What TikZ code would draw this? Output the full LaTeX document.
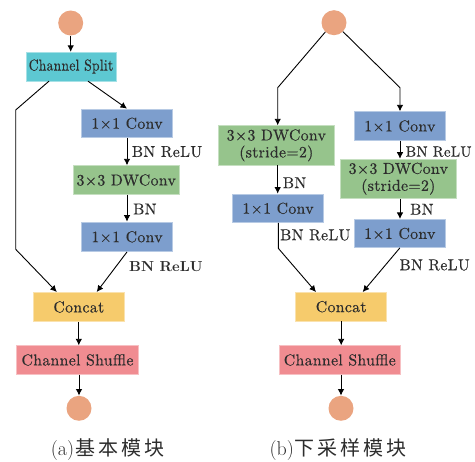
\documentclass[tikz,border=0pt]{standalone}
\usepackage{fontspec}
\newfontfamily\cjk{Noto Sans CJK SC}
\newfontfamily\boxfont{lmroman10-regular.otf}[LetterSpace=2, FakeBold=0.4]
\newfontfamily\boxfontbf{lmroman10-bold.otf}
\usetikzlibrary{arrows.meta}
\definecolor{cOrange}{RGB}{234,164,128}
\definecolor{cCyan}{RGB}{93,200,210}
\definecolor{cBlue}{RGB}{125,158,205}
\definecolor{cGreen}{RGB}{150,196,140}
\definecolor{cYellow}{RGB}{246,203,108}
\definecolor{cPink}{RGB}{240,140,145}
\definecolor{cText}{RGB}{45,45,45}
\begin{document}
\begin{tikzpicture}[x=1pt,y=-1pt,
  box/.style={draw=#1!55!white, line width=0.6pt, fill=#1, inner sep=0pt,
    minimum height=28.7pt, font=\fontsize{15.8}{17}\boxfont, text=cText, align=center},
  dot/.style={circle, fill=cOrange, minimum size=25pt, inner sep=0pt},
  arr/.style={-{Latex[length=6.5pt,width=6.5pt]}, line width=0.9pt},
  lbl/.style={font=\fontsize{15.8}{17}\boxfont, anchor=west, inner sep=0pt, text=cText},
  captext/.style={font=\fontsize{20}{22}\selectfont, inner sep=0pt, text=cText},
]
\useasboundingbox (0,0) rectangle (475,462);

% ---------- (a) ----------
\node[dot] (c1) at (70.7,23) {};
\node[box=cCyan, minimum width=90pt] (split) at (71,66.5) {\scalebox{0.86}[1]{Channel Split}};
\node[box=cBlue, minimum width=90.6pt] (conv1a) at (127,123.3) {1×1 Conv};
\node[box=cGreen, minimum width=105.7pt] (dwa) at (126.2,180) {3×3 DWConv};
\node[box=cBlue, minimum width=90.6pt, minimum height=29.7pt] (conv2a) at (127,236.8) {1×1 Conv};
\node[box=cYellow, minimum width=91pt, minimum height=29.4pt] (concata) at (78.8,307) {Concat};
\node[box=cPink, minimum width=121.6pt] (shufa) at (77.5,360) {Channel Shuffle};
\node[dot] (c2) at (79,408.3) {};

\coordinate (la1) at (15.7,110);
\coordinate (la2) at (15.7,249.3);

\draw[arr] (c1.south) -- (c1.south |- split.north);
\draw[arr] ([xshift=17pt]split.south) -- (conv1a.north);
\draw[arr] ([xshift=-22pt]split.south) -- (la1) -- (la2) -- ([xshift=-22pt]concata.north);
\draw[arr] (conv1a.south) -- (conv1a.south |- dwa.north);
\draw[arr] (conv1a.south |- dwa.south) -- (conv2a.north);
\draw[arr] (conv2a.south) -- ([xshift=17.9pt]concata.north);
\draw[arr] (concata.south) -- (concata.south |- shufa.north);
\draw[arr] (shufa.south -| c2) -- (c2.north);

\node[lbl] (la) at (131.7,151.7) {BN ReLU};
\node[lbl] (lb) at (133,209) {BN};
\node[lbl, font=\fontsize{14.5}{16}\boxfontbf] (lc) at (129,266.7) {BN ReLU};

\node[captext] (capa) at (107.5,450) {(a)\hspace{1pt}{\cjk 基\hspace{3pt}本\hspace{3pt}模\hspace{3pt}块}};

% ---------- (b) ----------
\node[dot] (c3) at (334,22.7) {};
\node[box=cGreen, minimum width=116pt, minimum height=39.3pt] (dwb1) at (276.3,145.3) {3×3 DWConv\\(stride=2)};
\node[box=cBlue, minimum width=90.6pt] (convb1) at (278,208.3) {1×1 Conv};
\node[box=cBlue, minimum width=91pt] (convb2) at (399.8,126) {1×1 Conv};
\node[box=cGreen, minimum width=116.7pt, minimum height=39.3pt] (dwb2) at (398.3,178.7) {3×3 DWConv\\(stride=2)};
\node[box=cBlue, minimum width=91pt, minimum height=28.4pt] (convb3) at (399.8,233.5) {1×1 Conv};
\node[box=cYellow, minimum width=91pt] (concatb) at (341.2,306.7) {Concat};
\node[box=cPink, minimum width=121.7pt] (shufb) at (339.8,360) {Channel Shuffle};
\node[dot] (c4) at (341,408.3) {};

\coordinate (kL) at (277.7,87.7);
\coordinate (kR) at (400,87.7);
\coordinate (kL2) at (278.3,248.3);

\draw[arr] (c3.-133) -- (kL) -- (kL |- dwb1.north);
\draw[arr] (c3.-45) -- (kR) -- (kR |- convb2.north);
\draw[arr] (kL |- dwb1.south) -- (kL |- convb1.north);
\draw[arr] (kL2 |- convb1.south) -- (kL2) -- ([xshift=-25.2pt]concatb.north);
\draw[arr] (kR |- convb2.south) -- (kR |- dwb2.north);
\draw[arr] (kR |- dwb2.south) -- (kR |- convb3.north);
\draw[arr] (convb3.south) -- ([xshift=21.5pt]concatb.north);
\draw[arr] (concatb.south) -- (concatb.south |- shufb.north);
\draw[arr] (shufb.south -| c4) -- (c4.north);

\node[lbl] (ld) at (282.7,182.7) {BN};
\node[lbl] (le) at (280,235) {BN ReLU};
\node[lbl, font=\fontsize{14.8}{16}\boxfont] (lf) at (405.5,151.7) {BN ReLU};
\node[lbl] (lg) at (410,209.3) {BN};
\node[lbl] (lh) at (399.3,265) {BN ReLU};

\node[captext] (capb) at (338.3,450) {(b)\hspace{1pt}{\cjk 下\hspace{3pt}采\hspace{3pt}样\hspace{3pt}模\hspace{3pt}块}};
\end{tikzpicture}
\end{document}
